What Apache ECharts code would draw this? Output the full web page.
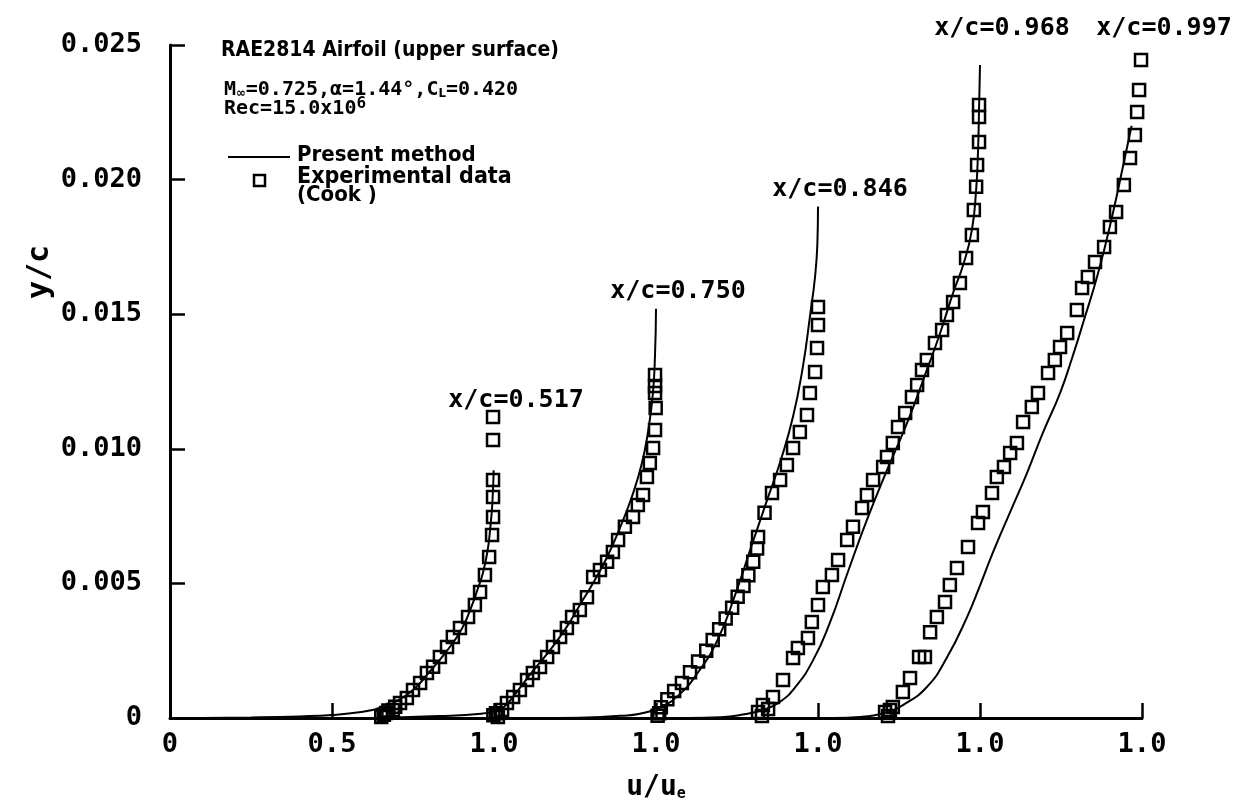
<!DOCTYPE html>
<html>
<head>
<meta charset="utf-8">
<script src="https://cdn.jsdelivr.net/npm/echarts@6/dist/echarts.min.js"></script>
<style>
  html, body { margin: 0; padding: 0; background: #fff; }
  #chart { width: 1248px; height: 812px; }
</style>
</head>
<body>
<div id="chart"></div>
<script>
// Boundary-layer velocity profiles, RAE2814 upper surface.
// Each station is drawn in its own u/ue frame, shifted along the axis by stationOffsets.

const stations = ['0.517', '0.750', '0.846', '0.968', '0.997'];
const stationOffsets = [0, 0.5, 1.0, 1.5, 2.0];

const xTickLabels = ['0', '0.5', '1.0', '1.0', '1.0', '1.0', '1.0'];
const yTickLabels = ['0', '0.005', '0.010', '0.015', '0.020', '0.025'];

// Present method: [u/ue, y/c]
const calc517 = [[0.1,0],[0.25,0.00002],[0.4,0.00006],[0.5,0.00011],[0.59,0.00022],[0.65,0.00037],[0.69,0.00056],[0.75,0.00104],[0.80,0.0017],[0.855,0.0025],[0.90,0.0033],[0.926,0.0040],[0.95,0.0048],[0.966,0.0054],[0.98,0.0062],[0.988,0.0070],[0.995,0.0080],[0.999,0.0092]];
const calc750 = [[0.15,0],[0.33,0.00007],[0.46,0.00016],[0.5,0.00025],[0.53,0.0004],[0.58,0.00112],[0.62,0.00175],[0.665,0.0024],[0.72,0.0033],[0.765,0.0042],[0.81,0.0051],[0.85,0.006],[0.89,0.0071],[0.925,0.0082],[0.955,0.0094],[0.975,0.0106],[0.99,0.012],[0.997,0.0135],[1.0,0.0152]];
const calc846 = [[0.2,0],[0.33,0.00004],[0.39,0.00008],[0.45,0.00016],[0.51,0.00038],[0.57,0.00085],[0.63,0.0017],[0.69,0.0029],[0.745,0.0046],[0.795,0.0064],[0.843,0.0081],[0.883,0.0095],[0.923,0.0112],[0.954,0.0131],[0.975,0.0149],[0.991,0.0164],[0.998,0.0176],[1.0,0.019]];
const calc968 = [[0.1,0],[0.2,0.00003],[0.259,0.00011],[0.33,0.0003],[0.38,0.00058],[0.43,0.00115],[0.485,0.00215],[0.537,0.00355],[0.59,0.00535],[0.651,0.00736],[0.713,0.00921],[0.775,0.01096],[0.836,0.01293],[0.877,0.0143],[0.917,0.01579],[0.95,0.0169],[0.975,0.01813],[0.988,0.01961],[0.994,0.0211],[0.997,0.02259],[1.0,0.02426]];
const calc997 = [[0.05,0],[0.13,0.00004],[0.213,0.00022],[0.262,0.00048],[0.336,0.00115],[0.398,0.00225],[0.46,0.00375],[0.5,0.00492],[0.54,0.00615],[0.593,0.00765],[0.645,0.0091],[0.694,0.01059],[0.747,0.01207],[0.785,0.0134],[0.82,0.01475],[0.865,0.01655],[0.91,0.01875],[0.945,0.0207],[0.968,0.0220]];

// Experimental data (Cook): [u/ue, y/c]
const exp517 = [[0.652,0.00004],[0.66,0.00012],[0.667,0.00019],[0.674,0.00028],[0.688,0.0003],[0.695,0.00042],[0.71,0.00056],[0.731,0.00074],[0.75,0.00104],[0.772,0.0013],[0.793,0.00167],[0.812,0.0019],[0.833,0.00227],[0.855,0.00264],[0.873,0.00301],[0.895,0.00334],[0.92,0.00375],[0.941,0.0042],[0.957,0.00468],[0.972,0.00531],[0.985,0.00598],[0.994,0.0068],[0.997,0.00747],[0.997,0.00821],[0.997,0.00884],[0.997,0.01033],[0.997,0.01118]];
const exp750 = [[0.498,0.0001],[0.506,0.00018],[0.512,0.00004],[0.525,0.0003],[0.54,0.00056],[0.559,0.00078],[0.58,0.00104],[0.602,0.00141],[0.62,0.00167],[0.642,0.00189],[0.664,0.00227],[0.682,0.00264],[0.704,0.00301],[0.725,0.00334],[0.741,0.00375],[0.765,0.00401],[0.787,0.00449],[0.806,0.00524],[0.827,0.0055],[0.849,0.0058],[0.867,0.00617],[0.883,0.00661],[0.904,0.0071],[0.929,0.00747],[0.944,0.00791],[0.96,0.00828],[0.972,0.00895],[0.981,0.00947],[0.991,0.01003],[0.997,0.0107],[0.999,0.01152],[0.997,0.01207],[0.997,0.01233],[0.997,0.01274]];
const exp846 = [[0.505,0.00008],[0.51,0.00018],[0.515,0.0004],[0.535,0.0007],[0.556,0.001],[0.58,0.0013],[0.605,0.0017],[0.63,0.0021],[0.655,0.0025],[0.675,0.0029],[0.695,0.0033],[0.715,0.0037],[0.735,0.0041],[0.752,0.0045],[0.77,0.0049],[0.785,0.0053],[0.80,0.0058],[0.812,0.0063],[0.815,0.00672],[0.835,0.00762],[0.858,0.00836],[0.883,0.00884],[0.904,0.0094],[0.923,0.01003],[0.944,0.01062],[0.966,0.01126],[0.975,0.01207],[0.991,0.01285],[0.997,0.01374],[1.0,0.0146],[1.0,0.01527]];
const exp968 = [[0.315,0.00022],[0.327,0.00007],[0.33,0.00048],[0.346,0.00033],[0.361,0.00078],[0.392,0.00141],[0.423,0.00223],[0.438,0.0026],[0.469,0.00297],[0.481,0.00357],[0.5,0.0042],[0.515,0.00487],[0.543,0.00531],[0.562,0.00587],[0.59,0.00661],[0.608,0.0071],[0.636,0.0078],[0.651,0.00828],[0.67,0.00884],[0.701,0.00932],[0.713,0.0097],[0.731,0.01022],[0.747,0.01081],[0.769,0.01133],[0.79,0.01192],[0.806,0.01237],[0.821,0.01293],[0.836,0.0133],[0.861,0.01393],[0.883,0.01441],[0.898,0.01497],[0.917,0.01545],[0.938,0.01616],[0.957,0.01709],[0.975,0.01794],[0.981,0.01887],[0.988,0.01973],[0.991,0.02054],[0.997,0.0214],[0.997,0.02233],[0.997,0.02277]];
const exp997 = [[0.207,0.00022],[0.216,0.00007],[0.222,0.0003],[0.231,0.00041],[0.262,0.00097],[0.284,0.00149],[0.312,0.00227],[0.33,0.00227],[0.346,0.00319],[0.367,0.00375],[0.392,0.00431],[0.407,0.00494],[0.429,0.00557],[0.463,0.00635],[0.494,0.00724],[0.509,0.00765],[0.537,0.00836],[0.552,0.00895],[0.574,0.00932],[0.593,0.00984],[0.614,0.01022],[0.633,0.011],[0.66,0.01155],[0.679,0.01207],[0.71,0.01282],[0.731,0.0133],[0.747,0.01378],[0.769,0.0143],[0.799,0.01516],[0.815,0.01597],[0.833,0.01638],[0.855,0.01694],[0.883,0.0175],[0.901,0.01824],[0.92,0.0188],[0.944,0.0198],[0.963,0.0208],[0.978,0.02166],[0.985,0.02251],[0.991,0.02333],[0.997,0.02444]];

const calcProfiles = [calc517, calc750, calc846, calc968, calc997];
const expProfiles = [exp517, exp750, exp846, exp968, exp997];

const MONO = "'DejaVu Sans Mono', monospace";
const COND = "'DejaVu Sans Condensed', 'Liberation Sans Narrow', sans-serif";
const INK = '#000';

const chart = echarts.init(document.getElementById('chart'), null, { renderer: 'canvas' });

const shift = (pts, off) => pts.map(p => [p[0] + off, p[1]]);

const series = [];
stations.forEach((st, i) => {
  series.push({
    name: 'Present method',
    type: 'line',
    data: shift(calcProfiles[i], stationOffsets[i]),
    showSymbol: false,
    symbol: 'none',
    smooth: 0.5,
    lineStyle: { color: INK, width: 2 },
    z: 2,
    silent: true
  });
  series.push({
    name: 'Experimental data',
    type: 'scatter',
    data: shift(expProfiles[i], stationOffsets[i]),
    symbol: 'rect',
    symbolSize: 12,
    itemStyle: { color: 'rgba(0,0,0,0)', borderColor: INK, borderWidth: 2.5, opacity: 1 },
    z: 3,
    silent: true
  });
});

const option = {
  backgroundColor: '#fff',
  animation: false,
  grid: { left: 170, right: 106, top: 45, bottom: 94, containLabel: false },
  xAxis: {
    type: 'value',
    min: 0, max: 3, interval: 0.5,
    axisLine: { show: true, onZero: false, lineStyle: { color: INK, width: 3 } },
    axisTick: { show: true, inside: true, length: 15, lineStyle: { color: INK, width: 2.5 } },
    splitLine: { show: false },
    axisLabel: {
      color: INK, fontFamily: MONO, fontWeight: 'bold', fontSize: 27, margin: 13,
      formatter: v => xTickLabels[Math.round(v / 0.5)]
    },
    name: 'u/u{e|e}',
    nameLocation: 'middle',
    nameGap: 56,
    nameTextStyle: {
      color: INK, fontFamily: MONO, fontWeight: 'bold', fontSize: 28,
      rich: { e: { fontFamily: MONO, fontWeight: 'bold', fontSize: 15, color: INK, padding: [12, 0, 0, 0] } }
    }
  },
  yAxis: {
    type: 'value',
    min: 0, max: 0.025, interval: 0.005,
    axisLine: { show: true, onZero: false, lineStyle: { color: INK, width: 3 } },
    axisTick: { show: true, inside: true, length: 15, lineStyle: { color: INK, width: 2.5 } },
    splitLine: { show: false },
    axisLabel: {
      color: INK, fontFamily: MONO, fontWeight: 'bold', fontSize: 27, margin: 28,
      formatter: v => yTickLabels[Math.round(v / 0.005)]
    }
  },
  series: series,
  graphic: [
    { type: 'text', left: 221, top: 40, style: { text: 'RAE2814 Airfoil (upper surface)', fontFamily: COND, fontWeight: 'bold', fontSize: 21, fill: INK } },
    { type: 'text', left: 224, top: 80, style: {
        text: 'M{s|∞}=0.725,α=1.44°,C{s|L}=0.420',
        fontFamily: MONO, fontWeight: 'bold', fontSize: 20, fill: INK,
        rich: { s: { fontFamily: COND, fontWeight: 'bold', fontSize: 13, fill: INK, padding: [8, 0, 0, 0] } }
      } },
    { type: 'text', left: 224, top: 96, style: {
        text: 'Rec=15.0x10{p|6}',
        fontFamily: MONO, fontWeight: 'bold', fontSize: 20, fill: INK,
        rich: { p: { fontFamily: MONO, fontWeight: 'bold', fontSize: 16, fill: INK, padding: [0, 0, 10, 0] } }
      } },
    { type: 'line', shape: { x1: 228, y1: 157, x2: 290, y2: 157 }, style: { stroke: INK, lineWidth: 2 } },
    { type: 'text', left: 297, top: 144, style: { text: 'Present method', fontFamily: COND, fontWeight: 'bold', fontSize: 22, fill: INK } },
    { type: 'rect', shape: { x: 254, y: 175, width: 11, height: 11 }, style: { fill: 'none', stroke: INK, lineWidth: 2.5 } },
    { type: 'text', left: 297, top: 166, style: { text: 'Experimental data', fontFamily: COND, fontWeight: 'bold', fontSize: 23, fill: INK } },
    { type: 'text', left: 297, top: 184, style: { text: '(Cook )', fontFamily: COND, fontWeight: 'bold', fontSize: 22, fill: INK } },
    { type: 'text', x: 40, y: 272, rotation: Math.PI / 2, style: { text: 'y/c', fontFamily: MONO, fontWeight: 'bold', fontSize: 30, fill: INK, align: 'center', verticalAlign: 'middle' } }
  ]
};

chart.setOption(option);

// Station captions sit above the top of each profile, converted through the grid's scales.
const captions = stations.map((st, i) => {
  const topY = Math.max(
    ...calcProfiles[i].map(p => p[1]),
    ...expProfiles[i].map(p => p[1])
  );
  const pt = chart.convertToPixel({ gridIndex: 0 }, [stationOffsets[i] + 1.0, topY]);
  const cy = pt[1] - 17 < 60 ? 28 : pt[1] - 17;
  return {
    type: 'text', x: pt[0] + 22, y: cy,
    style: { text: 'x/c=' + st, fontFamily: MONO, fontWeight: 'bold', fontSize: 25, fill: INK, align: 'center', verticalAlign: 'middle' }
  };
});
chart.setOption({ graphic: option.graphic.concat(captions) }, { replaceMerge: ['graphic'] });
</script>
</body>
</html>
